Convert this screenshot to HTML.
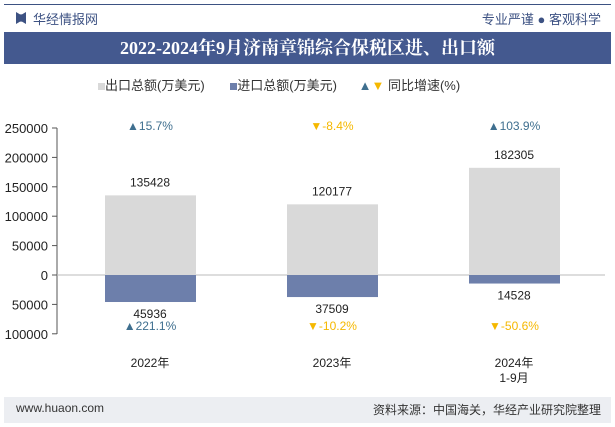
<!DOCTYPE html>
<html><head><meta charset="utf-8"><style>
body{margin:0;width:615px;height:427px;background:#fff;font-family:"Liberation Sans","Noto Sans CJK SC",sans-serif;position:relative;overflow:hidden}
.a{position:absolute}
</style></head><body>
<div class="a" style="left:4px;top:4px;width:607px;height:1px;background:#3d5283"></div>
<div class="a" style="left:16px;top:12px;width:10px;height:12px;background:#3d5283;clip-path:polygon(0 0,40% 20%,60% 20%,100% 0,100% 100%,60% 80%,40% 80%,0 100%)"></div>
<div class="a" style="left:33px;top:9px;font-size:13px;color:#3d5283">华经情报网</div>
<div class="a" style="right:14px;top:9px;font-size:13px;color:#3d5283">专业严谨 ● 客观科学</div>
<div class="a" style="left:4px;top:32px;width:607px;height:32px;background:#44598f;color:#fff;font-family:'Liberation Serif','Noto Serif CJK SC',serif;font-weight:bold;font-size:18px;text-align:center;line-height:32px">2022-2024年9月济南章锦综合保税区进、出口额</div>
<div class="a" style="left:98px;top:75px;font-size:13px;color:#333;white-space:nowrap">
<span><span style="display:inline-block;width:7px;height:7px;background:#d9d9d9"></span>出口总额(万美元)</span>
<span style="margin-left:22px"><span style="display:inline-block;width:7px;height:7px;background:#6d7fab"></span>进口总额(万美元)</span>
<span style="margin-left:18px"><span style="color:#3f6f8f">▲</span><span style="color:#f5b800">▼</span> 同比增速(%)</span>
</div>
<svg class="a" style="left:0;top:0" width="615" height="427" id="chart"></svg>
<div class="a" style="left:4px;top:397px;width:607px;height:26px;background:#eceef2"></div>
<div class="a" style="left:16px;top:401px;font-size:12px;color:#333">www.huaon.com</div>
<div class="a" style="right:14px;top:401px;font-size:12px;color:#333">资料来源：中国海关，华经产业研究院整理</div>
<script>
const categories=["2022年","2023年","2024年\n1-9月"];
const exportVals=[135428,120177,182305];
const importVals=[45936,37509,14528];
const expGrowth=[15.7,-8.4,103.9];
const impGrowth=[221.1,-10.2,-50.6];
const ticks=[250000,200000,150000,100000,50000,0,50000,100000];
const tickVals=[250000,200000,150000,100000,50000,0,-50000,-100000];
const svg=document.getElementById('chart');const NS='http://www.w3.org/2000/svg';
const y=v=>275-v*(147/250000);const x=i=>150+i*182;
function mk(t,a,txt){const e=document.createElementNS(NS,t);for(const k in a)e.setAttribute(k,a[k]);if(txt!==undefined)e.textContent=txt;svg.appendChild(e);return e;}
const ax=mk('line',{x1:57,x2:57,y1:128,y2:334,stroke:'#555'});

const zl=mk('line',{x1:57,x2:605,y1:275,y2:275,stroke:'#bbb'});

tickVals.forEach((v,i)=>{const t=mk('text',{x:48,y:y(v)+5,'text-anchor':'end','font-size':13,fill:'#222'},ticks[i]);

mk('line',{x1:52,x2:57,y1:y(v),y2:y(v),stroke:'#555'});});
categories.forEach((c,i)=>{const cx=x(i);
const b=mk('rect',{x:cx-45,y:y(exportVals[i]),width:91,height:275-y(exportVals[i]),fill:'#d9d9d9'});

const m=mk('rect',{x:cx-45,y:275,width:91,height:y(-importVals[i])-275,fill:'#6d7fab'});

const l1=mk('text',{x:cx,y:y(exportVals[i])-9,'text-anchor':'middle','font-size':12,fill:'#222'},exportVals[i]);

const l2=mk('text',{x:cx,y:y(-importVals[i])+16,'text-anchor':'middle','font-size':12,fill:'#222'},importVals[i]);

[[expGrowth[i],130],[impGrowth[i],330]].forEach(([g,yy])=>{const up=g>=0;
const t=mk('text',{x:cx,y:yy,'text-anchor':'middle','font-size':12,fill:up?'#3f6f8f':'#f5b800'},(up?'▲':'▼')+g+'%');
});
c.split('\n').forEach((s,k)=>{const t=mk('text',{x:cx,y:367+k*15,'text-anchor':'middle','font-size':12,fill:'#222'},s);
});
});
</script>
</body></html>
